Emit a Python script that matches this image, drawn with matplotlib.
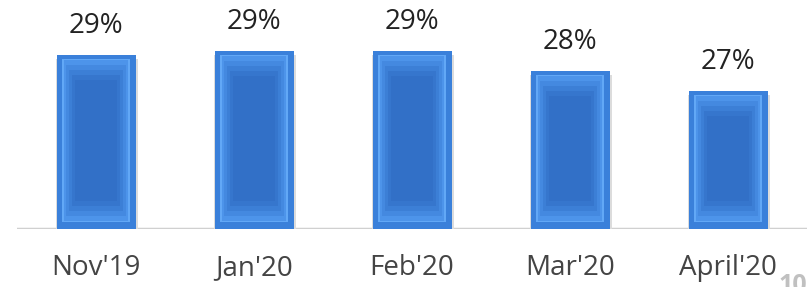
import matplotlib.pyplot as plt
import numpy as np

months = ["Nov'19", "Jan'20", "Feb'20", "Mar'20", "April'20"]
values = [28.7, 28.9, 28.9, 27.9, 26.9]
labels = ["29%", "29%", "29%", "28%", "27%"]

base = 20.0
fig = plt.figure(figsize=(8.11, 2.87), dpi=100)
ax = fig.add_axes([17 / 811, 58 / 287, 790 / 811, 229 / 287])

x = np.arange(len(months))
h = np.array(values) - base

# soft shadow under the bars
ax.bar(x + 0.005, h, width=0.52, bottom=base - 0.2, color="#dcdcdc", zorder=1)
# outer rim
ax.bar(x, h, width=0.5, bottom=base, color="#3a80da", zorder=2)
# light frame line
ax.bar(x, h - 0.55, width=0.43, bottom=base + 0.35, color="#62a8f6", zorder=3)
# bevelled face, lighter at the edges and darker to the middle
shades = ["#4d94ea", "#4489e0", "#3c7fd6", "#3676cd", "#3270c7"]
for k, c in enumerate(shades):
    w = 0.41 - 0.035 * k
    m = 0.25 * k
    ax.bar(x, h - 0.65 - 2 * m, width=w, bottom=base + 0.4 + m,
           color=c, zorder=4 + k)

for xi, v, lab in zip(x, values, labels):
    ax.text(xi, v + 0.75, lab, ha="center", va="bottom", fontsize=20,
            family="Open Sans", color="#222222")

ax.axhline(base, color="#d0d0d0", lw=2.5, zorder=0)
ax.set_xlim(-0.5, 4.5)
ax.set_ylim(base, base + 229 / 20)
ax.set_xticks(x)
ax.set_xticklabels(months, fontsize=20, family="Open Sans", color="#444444")
ax.tick_params(axis="x", length=0, pad=18)
ax.set_yticks([])
for s in ax.spines.values():
    s.set_visible(False)

# page number peeking in at the bottom right
fig.text(778 / 811, -11 / 287, "10", fontsize=18, color="#c0c0c0", va="bottom",
         family="Open Sans", fontweight="bold")

fig.savefig("out.png", dpi=100)
